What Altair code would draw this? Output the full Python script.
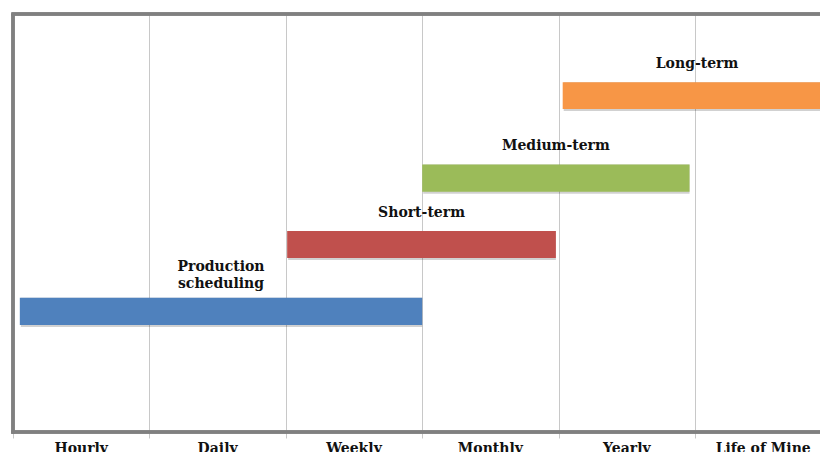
import altair as alt
import pandas as pd

# Planning horizons along the time axis
periods = ["Hourly", "Daily", "Weekly", "Monthly", "Yearly", "Life of Mine"]
period_pos = [0.5, 1.5, 2.5, 3.5, 4.5, 5.5]

# Planning levels: span on the time axis and vertical band
phases = ["Production\nscheduling", "Short-term", "Medium-term", "Long-term"]
start = [0.05, 2.01, 3.0, 4.03]
end = [3.0, 3.98, 4.96, 6.0]
band_low = [2.56, 4.16, 5.75, 7.73]
band_high = [3.21, 4.81, 6.40, 8.37]
colors = ["#4f81bd", "#c0504d", "#9bbb59", "#f79646"]

W, H = 807, 418
X_MAX = W / 136.4
Y_MAX = 10
LINE_H = 17
LIFT = 13
FONT = "DejaVu Serif"

bars = pd.DataFrame({
    "phase": phases, "start": start, "end": end,
    "low": band_low, "high": band_high, "color": colors,
})
bars["mid"] = (bars["start"] + bars["end"]) / 2
axis_labels = pd.DataFrame({"period": periods, "pos": period_pos})

xs = alt.Scale(domain=[0, X_MAX], nice=False, zero=False)
ys = alt.Scale(domain=[0, Y_MAX], nice=False, zero=False)

grid = alt.Chart(bars).mark_rect(opacity=0).encode(
    x=alt.X("start:Q", scale=xs, axis=alt.Axis(
        values=[0, 1, 2, 3, 4, 5, 6], labels=False, title=None, domain=False,
        grid=True, gridColor="#c8c8c8", gridWidth=1,
        ticks=True, tickSize=6, tickColor="#c8c8c8")),
    y=alt.Y("low:Q", scale=ys, axis=None),
)

shadow = alt.Chart(bars).mark_rect(color="#000000", opacity=0.18, xOffset=1, yOffset=2, clip=True).encode(
    x=alt.X("start:Q", scale=xs), x2="end:Q",
    y=alt.Y("low:Q", scale=ys), y2="high:Q",
)

rects = alt.Chart(bars).mark_rect(clip=True).encode(
    x=alt.X("start:Q", scale=xs), x2="end:Q",
    y=alt.Y("low:Q", scale=ys), y2="high:Q",
    color=alt.Color("color:N", scale=None),
)

# Multi-line labels are lifted so their last line sits just above the bar
phase_text = alt.Chart(bars).transform_calculate(
    n_lines="length(split(datum.phase, '\\n'))",
).transform_calculate(
    label_y=f"datum.high + (datum.n_lines - 1) * {LIFT} * {Y_MAX} / {H}",
).mark_text(
    font=FONT, fontWeight="bold", fontSize=14, color="#111111",
    baseline="bottom", dy=-11, lineBreak="\n", lineHeight=LINE_H,
).encode(
    x=alt.X("mid:Q", scale=xs),
    y=alt.Y("label_y:Q", scale=ys),
    text="phase:N",
)

period_text = alt.Chart(axis_labels).mark_text(
    font=FONT, fontWeight="bold", fontSize=14, color="#111111", baseline="top",
).encode(
    x=alt.X("pos:Q", scale=xs),
    y=alt.value(H + 10),
    text="period:N",
)

frame_color = "#808080"
left_border = alt.Chart(bars).mark_rule(color=frame_color, strokeWidth=3).encode(
    x=alt.value(0), y=alt.value(0), y2=alt.value(H + 1.5))
top_border = alt.Chart(bars).mark_rule(color=frame_color, strokeWidth=3).encode(
    x=alt.value(-1.5), x2=alt.value(W + 5), y=alt.value(0))
bottom_border = alt.Chart(bars).mark_rule(color=frame_color, strokeWidth=3).encode(
    x=alt.value(-1.5), x2=alt.value(W + 5), y=alt.value(H))

chart = alt.layer(
    grid, shadow, rects, phase_text, period_text,
    left_border, top_border, bottom_border,
).properties(
    width=W, height=H,
    padding={"left": 13, "top": 14, "right": 0, "bottom": 20},
    autosize=alt.AutoSizeParams(type="none"),
    background="#ffffff",
).configure_view(stroke=None)

chart.save("out.html", embed_options={"renderer": "svg", "actions": False})
